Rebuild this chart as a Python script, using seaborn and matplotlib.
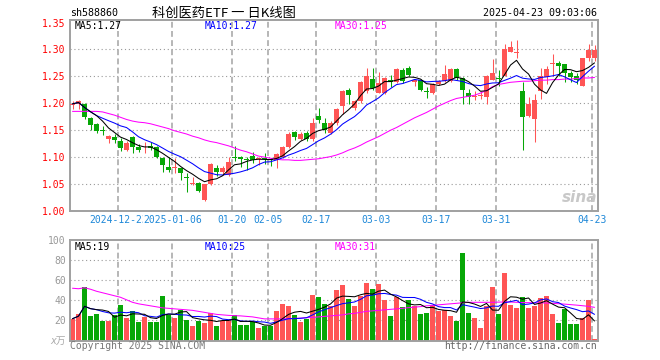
import numpy as np
import pandas as pd
import seaborn as sns
import matplotlib.pyplot as plt
import matplotlib.transforms as mtransforms

# header texts
code = "sh588860"
title = "科创医药ETF 一 日K线图"
stamp = "2025-04-23 09:03:06"

# daily candles, 2024-12-11 .. 2025-04-23
opens = [1.196, 1.199, 1.199, 1.173, 1.162, 1.151, 1.133, 1.138, 1.130, 1.113,
         1.137, 1.118, 1.118, 1.120, 1.118, 1.099, 1.081, 1.079, 1.079, 1.063,
         1.050, 1.052, 1.020, 1.051, 1.079, 1.0715, 1.066, 1.100, 1.101, 1.096,
         1.102, 1.096, 1.098, 1.096, 1.094, 1.101, 1.118, 1.147, 1.134, 1.1455,
         1.133, 1.177, 1.163, 1.145, 1.163, 1.195, 1.2247, 1.1907, 1.2043, 1.2228,
         1.2457, 1.2185, 1.220, 1.2426, 1.240, 1.262, 1.266, 1.240, 1.2432, 1.2222,
         1.2198, 1.2364, 1.2414, 1.2414, 1.263, 1.2463, 1.2187, 1.2114, 1.2138, 1.2126,
         1.243, 1.2455, 1.251, 1.2957, 1.2927, 1.2224, 1.176, 1.1704, 1.2236, 1.248,
         1.273, 1.2755, 1.2725, 1.256, 1.250, 1.2328, 1.2847, 1.2847]
highs = [1.205, 1.206, 1.200, 1.175, 1.163, 1.158, 1.141, 1.143, 1.136, 1.130,
         1.139, 1.125, 1.128, 1.128, 1.120, 1.100, 1.100, 1.099, 1.080, 1.070,
         1.063, 1.054, 1.051, 1.090, 1.086, 1.083, 1.100, 1.121, 1.102, 1.100,
         1.110, 1.100, 1.108, 1.098, 1.107, 1.120, 1.146, 1.148, 1.146, 1.148,
         1.173, 1.191, 1.172, 1.168, 1.192, 1.224, 1.2278, 1.206, 1.2414, 1.266,
         1.266, 1.258, 1.248, 1.2525, 1.266, 1.265, 1.270, 1.245, 1.245, 1.230,
         1.238, 1.243, 1.272, 1.266, 1.265, 1.248, 1.2266, 1.2224, 1.222, 1.253,
         1.2817, 1.2615, 1.310, 1.315, 1.318, 1.240, 1.2126, 1.2175, 1.266, 1.270,
         1.291, 1.2786, 1.2725, 1.260, 1.257, 1.2847, 1.3104, 1.308]
lows = [1.190, 1.190, 1.170, 1.150, 1.144, 1.142, 1.127, 1.127, 1.111, 1.111,
        1.108, 1.110, 1.108, 1.114, 1.098, 1.073, 1.073, 1.070, 1.057, 1.035,
        1.049, 1.036, 1.018, 1.048, 1.065, 1.067, 1.065, 1.092, 1.082, 1.076,
        1.090, 1.086, 1.087, 1.083, 1.079, 1.099, 1.117, 1.132, 1.132, 1.130,
        1.130, 1.163, 1.145, 1.143, 1.160, 1.180, 1.1994, 1.188, 1.200, 1.220,
        1.224, 1.2185, 1.218, 1.230, 1.238, 1.238, 1.250, 1.232, 1.2228, 1.2105,
        1.218, 1.234, 1.240, 1.240, 1.243, 1.198, 1.199, 1.2053, 1.208, 1.199,
        1.243, 1.233, 1.250, 1.2957, 1.285, 1.1136, 1.175, 1.129, 1.208, 1.235,
        1.251, 1.251, 1.239, 1.239, 1.236, 1.2328, 1.2786, 1.278]
closes = [1.199, 1.204, 1.174, 1.160, 1.149, 1.148, 1.140, 1.132, 1.117, 1.127,
          1.118, 1.114, 1.119, 1.117, 1.101, 1.085, 1.076, 1.081, 1.071, 1.062,
          1.052, 1.037, 1.050, 1.088, 1.072, 1.080, 1.0915, 1.098, 1.096, 1.095,
          1.094, 1.098, 1.096, 1.094, 1.106, 1.118, 1.143, 1.137, 1.143, 1.133,
          1.164, 1.169, 1.150, 1.163, 1.189, 1.2228, 1.2148, 1.2043, 1.240, 1.2506,
          1.2278, 1.237, 1.2463, 1.2401, 1.264, 1.242, 1.252, 1.243, 1.224, 1.221,
          1.2364, 1.2414, 1.255, 1.263, 1.2463, 1.224, 1.2126, 1.2144, 1.2146, 1.251,
          1.2554, 1.2445, 1.300, 1.3043, 1.2951, 1.1747, 1.198, 1.2053, 1.251, 1.263,
          1.274, 1.2694, 1.257, 1.249, 1.244, 1.2847, 1.2988, 1.2988]

# volume, 万手
volumes = [21.7, 26.7, 53.7, 24.7, 26.7, 19.7, 19.7, 25.0, 35.7, 22.7,
           29.7, 18.7, 23.7, 18.7, 18.7, 44.7, 25.7, 22.7, 30.0, 20.7,
           14.7, 19.7, 17.7, 27.7, 14.7, 19.7, 19.7, 25.0, 15.7, 15.7,
           18.0, 12.7, 14.7, 14.7, 29.7, 36.7, 34.0, 25.7, 18.7, 21.7,
           45.7, 43.0, 36.7, 34.7, 50.7, 55.7, 41.7, 34.7, 44.7, 57.7,
           51.7, 56.7, 40.0, 24.7, 43.7, 33.7, 40.3, 34.7, 26.7, 27.7,
           35.7, 29.7, 30.7, 24.7, 19.7, 86.7, 27.7, 22.7, 12.7, 34.7,
           53.7, 26.7, 66.7, 35.7, 32.7, 43.7, 32.7, 34.7, 42.7, 44.3,
           26.7, 17.7, 31.7, 16.7, 16.7, 22.7, 40.0, 1.0]

# 30-day averages (they need history before the window)
ma30_price = [1.185, 1.185, 1.185, 1.185, 1.185, 1.184, 1.181, 1.178, 1.174, 1.170,
              1.167, 1.165, 1.164, 1.162, 1.159, 1.156, 1.153, 1.149, 1.146, 1.143,
              1.139, 1.136, 1.132, 1.129, 1.127, 1.124, 1.121, 1.117, 1.113, 1.110,
              1.106, 1.102, 1.100, 1.098, 1.096, 1.095, 1.095, 1.094, 1.094, 1.095,
              1.096, 1.097, 1.099, 1.101, 1.104, 1.108, 1.113, 1.117, 1.122, 1.128,
              1.133, 1.138, 1.144, 1.150, 1.155, 1.161, 1.167, 1.173, 1.178, 1.183,
              1.189, 1.195, 1.200, 1.205, 1.209, 1.211, 1.213, 1.215, 1.219, 1.224,
              1.231, 1.235, 1.237, 1.239, 1.240, 1.241, 1.241, 1.242, 1.243, 1.243,
              1.244, 1.244, 1.245, 1.245, 1.246, 1.247, 1.247, 1.248]
ma30_volume = [52, 51.5, 52.5, 51, 49, 47.5, 46, 44.5, 43, 40.5,
               38, 36.5, 35.5, 34.5, 33.5, 32.5, 32, 31.5, 31, 30.5,
               30, 29, 28, 27, 26, 25.5, 25, 24.7, 24.5, 24,
               23.5, 22.5, 21.5, 21.5, 21.5, 21.5, 21.7, 22, 22.3, 22.7,
               23, 23.5, 24, 24.5, 25, 25.5, 26.5, 27, 28, 29,
               29.5, 30, 30.5, 31, 31.5, 32, 32.7, 33.2, 33.7, 34.5,
               35, 35.5, 36, 36.5, 37, 37.5, 38, 38, 38, 38,
               38, 38.2, 38.3, 38.3, 38, 37.8, 37.7, 37.5, 37.4, 37.3,
               37, 36.6, 36.2, 35.7, 35.2, 34.6, 34, 33]

date_idx = [8, 17, 27, 33, 41, 51, 61, 71, 87]
date_labels = ["2024-12-23", "2025-01-06", "01-20", "02-05", "02-17",
               "03-03", "03-17", "03-31", "04-23"]
price_ticks = [1.00, 1.05, 1.10, 1.15, 1.20, 1.25, 1.30, 1.35]
volume_ticks = [20, 40, 60, 80, 100]
price_ma_text = ["MA5:1.27", "MA10:1.27", "MA30:1.25"]
volume_ma_text = ["MA5:19", "MA10:25", "MA30:31"]

RED = "#ff5555"
GREEN = "#07a707"
GRID = "#aaaaaa"
MONO = "DejaVu Sans Mono"

sns.set_theme(style="white")
plt.rcParams['font.family'] = [MONO, 'Noto Sans CJK SC']

df = pd.DataFrame({"open": opens, "high": highs, "low": lows,
                   "close": closes, "volume": volumes})
df["idx"] = np.arange(len(df))
df["dir"] = np.where(df["close"] >= df["open"], "up", "down")
df["color"] = np.where(df["dir"] == "up", RED, GREEN)
df["ma5"] = df["close"].rolling(5, min_periods=1).mean()
df["ma10"] = df["close"].rolling(10, min_periods=1).mean()
df["ma30"] = ma30_price
df["vma5"] = df["volume"].rolling(5, min_periods=1).mean()
df["vma10"] = df["volume"].rolling(10, min_periods=1).mean()
df["vma30"] = ma30_volume

W, H = 660, 360
fig = plt.figure(figsize=(W / 100, H / 100), dpi=100)
ax_p = fig.add_axes([70 / W, (H - 211) / H, 528 / W, 191 / H])
ax_v = fig.add_axes([70 / W, (H - 340.5) / H, 528 / W, 100.5 / H])

xlim = (-0.42, 87.58)
grid_x = [i - 0.37 for i in date_idx]
LW = 0.75

# --- price panel
for y in price_ticks[1:-1]:
    ax_p.axhline(y, color="#999999", lw=0.8, ls=(0, (1, 2.5)), zorder=0)
for x in grid_x:
    ax_p.axvline(x, color=GRID, lw=1.2, ls=(0, (3.5, 2)), zorder=0)

body_lo = df[["open", "close"]].min(axis=1)
body_h = (df["close"] - df["open"]).abs().clip(lower=0.0016)
ax_p.vlines(df["idx"], df["low"], df["high"], colors=df["color"], lw=LW, zorder=2)
ax_p.bar(df["idx"], body_h, bottom=body_lo, width=0.8, color=df["color"],
         linewidth=0, zorder=3)

sns.lineplot(data=df, x="idx", y="ma30", color="#ff00ff", lw=LW, ax=ax_p, zorder=4)
sns.lineplot(data=df, x="idx", y="ma10", color="#0000ff", lw=LW, ax=ax_p, zorder=5)
sns.lineplot(data=df, x="idx", y="ma5", color="black", lw=LW, ax=ax_p, zorder=6)

ax_p.set_xlim(*xlim)
ax_p.set_ylim(1.0, 1.3547)
ax_p.set_yticks(price_ticks)
ax_p.set_yticklabels([f"{v:.2f}" for v in price_ticks], color="red",
                     fontsize=7, family=MONO)
ax_p.set_xticks([])
ax_p.tick_params(axis="y", length=0, pad=3)
ax_p.set_xlabel("")
ax_p.set_ylabel("")

trans = mtransforms.blended_transform_factory(ax_p.transData, ax_p.transAxes)
for x, lab in zip(grid_x, date_labels):
    ax_p.text(x, -0.047, lab, transform=trans, ha="center", va="center",
              fontsize=7, family=MONO, color="#1e88d8", clip_on=False,
              bbox=dict(facecolor="white", edgecolor="none", pad=0))

# sina watermark
ax_p.text(0.965, 0.07, "sina", transform=ax_p.transAxes, ha="center", va="center",
          fontsize=11, fontweight="bold", style="italic", color="#c8c8c8",
          family="DejaVu Sans", zorder=1)

# --- volume panel
for y in volume_ticks[:-1]:
    ax_v.axhline(y, color="#999999", lw=0.8, ls=(0, (1, 2.5)), zorder=0)
for x in grid_x:
    ax_v.axvline(x, color=GRID, lw=1.2, ls=(0, (3.5, 2)), zorder=0)

sns.barplot(data=df, x="idx", y="volume", hue="dir",
            palette={"up": RED, "down": GREEN}, native_scale=True, dodge=False,
            width=0.83, errorbar=None, legend=False, saturation=1,
            linewidth=0, ax=ax_v, zorder=2)
sns.lineplot(data=df, x="idx", y="vma30", color="#ff00ff", lw=LW, ax=ax_v, zorder=4)
sns.lineplot(data=df, x="idx", y="vma10", color="#0000ff", lw=LW, ax=ax_v, zorder=5)
sns.lineplot(data=df, x="idx", y="vma5", color="black", lw=LW, ax=ax_v, zorder=6)

ax_v.set_xlim(*xlim)
ax_v.set_ylim(0, 100)
ax_v.set_yticks(volume_ticks)
ax_v.set_yticklabels([str(v) for v in volume_ticks], color="#999999",
                     fontsize=7, family=MONO)
ax_v.set_xticks([])
ax_v.tick_params(axis="y", length=0, pad=3)
ax_v.set_xlabel("")
ax_v.set_ylabel("")

for ax in (ax_p, ax_v):
    for sp in ax.spines.values():
        sp.set_color("#a0a0a0")
        sp.set_linewidth(1.4)
        sp.set_visible(True)

# --- texts
def fy(y):
    return 1 - y / H

fig.text(70 / W, fy(13), code, ha="left", va="center", fontsize=7.2,
         family=MONO, color="black")
fig.text(223.5 / W, fy(13), title, ha="center", va="center", fontsize=9.5,
         family=["Noto Sans CJK SC"], color="black")
fig.text(597 / W, fy(13), stamp, ha="right", va="center", fontsize=7.2,
         family=MONO, color="black")

ma_x = [75, 205, 335]
ma_colors = ["black", "#0000ff", "#ff00ff"]
for x, t, c in zip(ma_x, price_ma_text, ma_colors):
    fig.text(x / W, fy(26), t, ha="left", va="center", fontsize=7,
             family=MONO, color=c)
for x, t, c in zip(ma_x, volume_ma_text, ma_colors):
    fig.text(x / W, fy(246.5), t, ha="left", va="center", fontsize=7,
             family=MONO, color=c)

fig.text(66 / W, fy(341), "x万", ha="right", va="center", fontsize=7,
         family=["DejaVu Sans", "Noto Sans CJK SC"], style="italic", color="#aaaaaa")
fig.text(70 / W, fy(346), "Copyright 2025 SINA.COM", ha="left", va="center",
         fontsize=7, family=MONO, color="#777777")
fig.text(597 / W, fy(346), "http://finance.sina.com.cn", ha="right", va="center",
         fontsize=7, family=MONO, color="#666666")

fig.savefig("out.png", dpi=100)
plt.close(fig)
